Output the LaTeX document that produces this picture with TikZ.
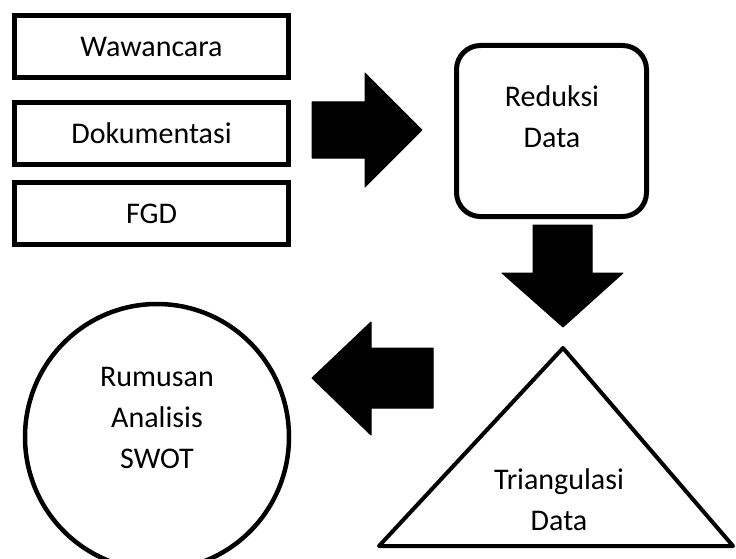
\documentclass[tikz,border=0pt]{standalone}
\usepackage{fontspec}
\setmainfont{Carlito}
\usetikzlibrary{shapes.geometric}
\begin{document}
\begin{tikzpicture}[x=1pt,y=-1pt,
  txt/.style={font=\fontsize{30}{41}\selectfont, align=center, inner sep=0pt},
  srcbox/.style={draw, line width=5pt, rectangle, minimum width=274pt, minimum height=62pt, inner sep=0pt, font=\fontsize{30}{41}\selectfont},
  blockarrow/.style={fill=black, draw=black, line width=1pt, line join=round},
  shapeline/.style={draw, line width=5pt}]
\useasboundingbox (0,0) rectangle (736,559);
\node[srcbox] (waw) at (151.5,46.5) {Wawancara};
\node[srcbox] (dok) at (151.5,133.5) {Dokumentasi};
\node[srcbox] (fgd) at (151.5,213.5) {FGD};
\node[shapeline, rectangle, rounded corners=24pt, minimum width=190pt, minimum height=171pt] (red) at (551.5,131) {};
\node[txt] (redt) at (552,117) {Reduksi\\Data};
\node[shapeline, line width=4.5pt, ellipse, minimum width=264pt, minimum height=266pt, inner sep=0pt] (rum) at (157,437) {};
\node[txt] (rumt) at (157,418) {Rumusan\\Analisis\\SWOT};
\coordinate (tA) at (563,348);
\coordinate (tL) at (379,546);
\coordinate (tR) at (733,546);
\draw[line width=4pt, line join=round] (tA) -- (tL) -- (tR) -- cycle;
\node[txt] (trit) at (559,500) {Triangulasi\\Data};
% block arrows
\draw[blockarrow] (312,102) -- (365,102) -- (365,73) -- (422,130) -- (365,187) -- (365,158) -- (312,158) -- cycle;
\draw[blockarrow] (533,225) -- (592,225) -- (592,273) -- (623,273) -- (563,327) -- (502,273) -- (533,273) -- cycle;
\draw[blockarrow] (433,348) -- (371,348) -- (371,322) -- (312,378) -- (371,435) -- (371,408) -- (433,408) -- cycle;
\end{tikzpicture}
\end{document}
